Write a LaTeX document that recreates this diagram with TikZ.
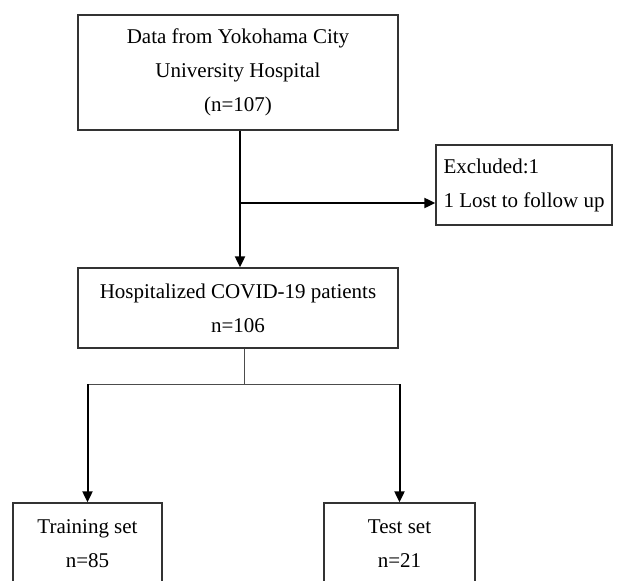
\documentclass[tikz,border=0pt]{standalone}
\usepackage{fontspec}
\setmainfont{Liberation Serif}
\usetikzlibrary{arrows.meta,positioning}

\begin{document}
\begin{tikzpicture}[
    x=1pt, y=-1pt,
    box/.style={rectangle, draw=black!80, line width=1.3pt, minimum width=320pt,
                align=center, inner sep=0pt, font=\fontsize{21}{34}\selectfont},
    flow/.style={-{Triangle[length=11pt,width=10pt]}, line width=2pt},
    split/.style={line width=1pt, black!70},
    >=Stealth
]
\useasboundingbox (0,0) rectangle (619,581);

\node[box, minimum height=115pt] (data) at (238,72.5) {Data from Yokohama City\\University Hospital\\(n=107)};
\node[box, minimum height=80pt]  (hosp) at (238,308)  {Hospitalized COVID-19 patients\\n=106};
\node[box, minimum width=176pt, minimum height=80pt, align=left] (excl) at (524,185) {Excluded:1\\1 Lost to follow up};
\node[box, minimum width=149pt, minimum height=81pt] (train) at (87.5,543.5) {Training set\\n=85};
\node[box, minimum width=151pt, minimum height=81pt] (test)  at (399.5,543.5) {Test set\\n=21};

% exclusion branch
\coordinate (branch) at (240,203);
\draw[flow] (data.south -| branch) -- (hosp.north -| branch);
\draw[flow] (branch) -- (branch -| excl.west);

% split into training / test
\coordinate (fork) at (244,384);
\draw[split] (hosp.south -| fork) -- (fork);
\draw[split] (train.north |- fork) -- (test.north |- fork);
\draw[flow] (train.north |- fork) -- (train.north);
\draw[flow] (test.north |- fork) -- (test.north);
\end{tikzpicture}
\end{document}
